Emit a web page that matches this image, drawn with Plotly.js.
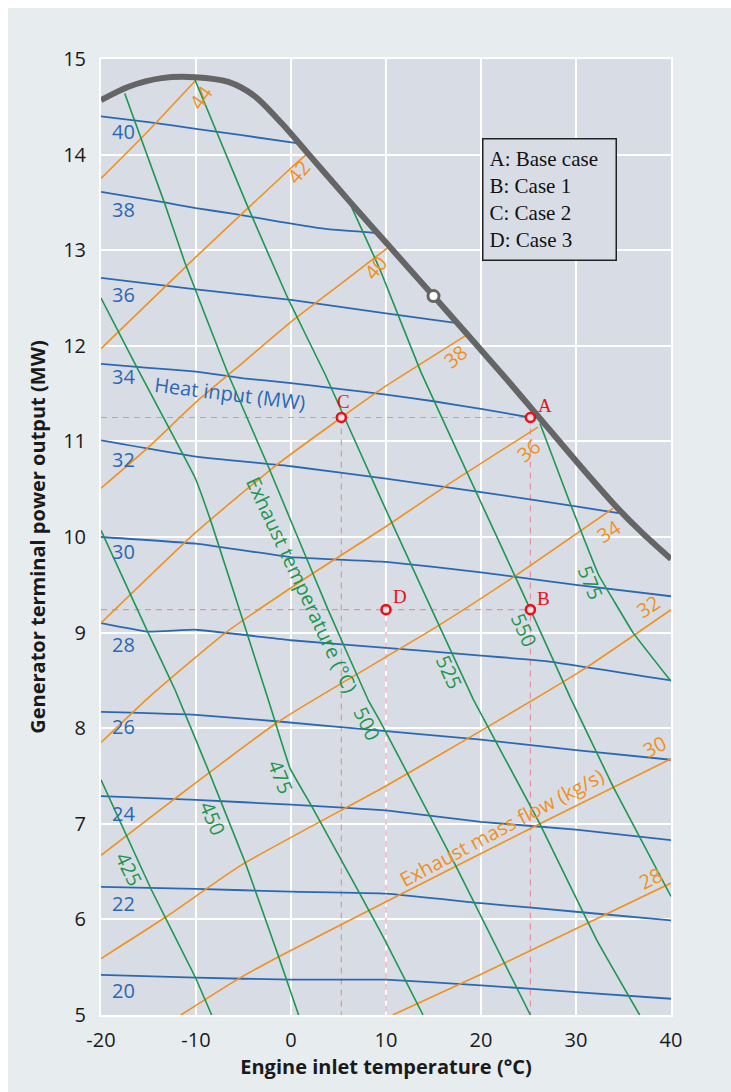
<!DOCTYPE html>
<html><head><meta charset="utf-8">
<script src="https://cdn.plot.ly/plotly-3.0.1.min.js"></script>
<style>
html,body{margin:0;padding:0;background:#ffffff;}
#chart{position:absolute;left:8px;top:8px;width:723px;height:1084px;}
</style></head><body><div id="chart"></div>
<script>
// ---------- data ----------
// Heat input (MW) lines
const heatLevels = [40, 38, 36, 34, 32, 30, 28, 26, 24, 22, 20];
const heatX = [
  [-20, -15, -10, -5, 0.6],
  [-20, -13.3, -10, -6, -1.3, 3.9, 9.0],
  [-20, -10, 0, 10, 17.3],
  [-20, -15, -10, -5, 0, 5, 10, 15, 20, 25.2],
  [-20, -10, 0, 10, 20, 30, 34.5],
  [-20, -10, 0, 10, 20, 30, 40],
  [-20, -15, -10, 0, 10, 20, 27, 40],
  [-20, -10, -1.3, 10, 20, 30, 40],
  [-20, -10, 0, 10, 20, 30, 40],
  [-20, -10, 0, 10, 20, 30, 40],
  [-20, -10, 0, 10, 20, 30, 40]
];
const heatY = [
  [14.40, 14.34, 14.27, 14.20, 14.12],
  [13.61, 13.50, 13.44, 13.38, 13.30, 13.22, 13.18],
  [12.71, 12.59, 12.48, 12.34, 12.24],
  [11.81, 11.77, 11.73, 11.66, 11.61, 11.55, 11.49, 11.42, 11.34, 11.25],
  [11.01, 10.84, 10.74, 10.61, 10.47, 10.32, 10.25],
  [10.00, 9.93, 9.79, 9.74, 9.63, 9.50, 9.38],
  [9.10, 9.01, 9.03, 8.92, 8.84, 8.76, 8.70, 8.50],
  [8.17, 8.14, 8.07, 7.97, 7.88, 7.77, 7.67],
  [7.29, 7.25, 7.20, 7.14, 7.02, 6.94, 6.83],
  [6.34, 6.32, 6.29, 6.27, 6.17, 6.08, 5.99],
  [5.42, 5.39, 5.37, 5.37, 5.31, 5.24, 5.17]
];
const heatLabelX = [-17.6, -17.6, -17.6, -17.6, -17.6, -17.6, -17.6, -17.6, -17.6, -17.6, -17.6];
const heatLabelY = [14.24, 13.43, 12.54, 11.68, 10.81, 9.85, 8.88, 8.02, 7.11, 6.17, 5.26];

// Exhaust mass flow (kg/s) lines
const massLevels = [44, 42, 40, 38, 36, 34, 32, 30, 28];
const massX = [
  [-20, -15, -10],
  [-20, -10, 0, 1.6],
  [-20, -15, -10, -5, 0, 5, 10.5],
  [-20, -10, -1.7, 5.3, 10, 18.6],
  [-20, -15, -7, 2, 10, 16.4, 26.0],
  [-20, -12.4, -1.3, 9.4, 15.3, 23.4, 33.9],
  [-20, -13.1, -5.2, 9.9, 18.4, 30.7, 40],
  [-11.6, -5.5, -1.3, 9.9, 26.2, 40],
  [10.7, 19.9, 40]
];
const massY = [
  [13.75, 14.25, 14.78],
  [11.97, 12.93, 13.86, 14.00],
  [10.51, 10.94, 11.41, 11.83, 12.25, 12.63, 13.05],
  [9.10, 10.05, 10.74, 11.25, 11.58, 12.12],
  [7.85, 8.32, 8.99, 9.60, 10.11, 10.54, 11.15],
  [6.67, 7.25, 8.07, 8.71, 9.06, 9.58, 10.30],
  [5.59, 6.03, 6.57, 7.39, 7.88, 8.61, 9.24],
  [5.00, 5.38, 5.61, 6.18, 7.00, 7.68],
  [5.00, 5.42, 6.38]
];
const massLabelX = [-9.5, 0.84, 8.9, 17.3, 25.0, 33.4, 37.6, 38.3, 37.8];
const massLabelY = [14.60, 13.82, 12.82, 11.89, 10.91, 10.06, 9.27, 7.81, 6.43];

// Exhaust temperature (°C) lines
const tempLevels = [425, 450, 475, 500, 525, 550, 575];
const tempX = [
  [-20, -14.7, -10.1, -8.35],
  [-20, -15, -12.2, -8.7, -4.8, -1.3, 0.8],
  [-20, -16.1, -10.1, -8.35, -2.4, -0.1, 2.2, 7.4, 9.9, 13.9],
  [-17.5, -13.3, -11.2, -6.6, -2.4, 0.4, 3.9, 8.1, 9.4, 17.4, 25.2],
  [-10.1, -4.7, -0.3, 3.6, 9.6, 19.2, 26.2, 32.2, 36.7],
  [6.2, 9.4, 13.7, 22.0, 25.2, 29.4, 33.9, 40],
  [26.2, 29.2, 32.4, 34.0, 36.0, 40]
];
const tempY = [
  [7.46, 6.31, 5.40, 5.00],
  [10.07, 8.99, 8.40, 7.56, 6.59, 5.61, 5.00],
  [12.50, 11.75, 10.62, 10.14, 8.30, 7.58, 7.18, 6.24, 5.78, 5.00],
  [14.64, 13.49, 12.88, 11.70, 10.74, 10.07, 9.24, 8.30, 8.07, 6.55, 5.00],
  [14.78, 13.49, 12.49, 11.70, 10.37, 8.30, 7.00, 5.78, 5.00],
  [13.49, 12.79, 11.72, 9.93, 9.24, 8.32, 7.39, 6.24],
  [11.19, 10.40, 9.60, 9.33, 9.00, 8.49]
];
const tempLabelX = [-17.1, -8.2, -1.15, 8.0, 16.6, 24.5, 31.5];
const tempLabelY = [6.53, 7.06, 7.49, 8.05, 8.59, 9.03, 9.52];

// Operating envelope (generator output limit)
const envX = [-20, -17.1, -13.6, -10.1, -6.6, -3.8, -1.0, 1.8, 4.6, 7.4, 10, 15, 22.7, 25.7, 28, 31, 34.3, 37, 40];
const envY = [14.57, 14.71, 14.80, 14.81, 14.76, 14.61, 14.33, 14.01, 13.69, 13.37, 13.08, 12.52, 11.65, 11.30, 11.03, 10.68, 10.31, 10.04, 9.77];
const ratedX = [15];
const ratedY = [12.52];

// Cases
const caseNames = ['A', 'B', 'C', 'D'];
const caseX = [25.2, 25.2, 5.3, 10.0];
const caseY = [11.25, 9.24, 11.25, 9.24];
const caseLabelX = [26.7, 26.6, 5.5, 11.5];
const caseLabelY = [11.38, 9.36, 11.42, 9.38];
const legendLines = ['A: Base case', 'B: Case 1', 'C: Case 2', 'D: Case 3'];

// Axis ticks
const xTickVals = [-20, -10, 0, 10, 20, 30, 40];
const xTickText = ['-20', '-10', '0', '10', '20', '30', '40'];

// ---------- styles ----------
const BLUE = '#2c68b2', ORANGE = '#f0901e', GREEN = '#1f9650', GREY = '#656565', RED = '#e5121a';
const PLOTBG = '#d8dde5', PAPER = '#e7ecef';
const SANS = '"Open Sans", "Noto Sans", sans-serif';
const SERIF = '"Liberation Serif", "DejaVu Serif", serif';
const X0 = -20, YB = 5;
const DASH = {color: 'rgba(232,120,140,0.75)', width: 1.2, dash: '6px,5px'};

const traces = [];
const annotations = [];

// dashed guide lines (one per row / column, from the outermost case)
caseNames.forEach((n, i) => {
  const hasRight = caseX.some((x, j) => j !== i && caseY[j] === caseY[i] && x > caseX[i]);
  if (!hasRight) {
    traces.push({x: [X0, caseX[i]], y: [caseY[i], caseY[i]], mode: 'lines', hoverinfo: 'skip', line: DASH});
  }
  const hasAbove = caseY.some((y, j) => j !== i && caseX[j] === caseX[i] && y > caseY[i]);
  if (!hasAbove) {
    traces.push({x: [caseX[i], caseX[i]], y: [caseY[i], YB], mode: 'lines', hoverinfo: 'skip', line: DASH});
  }
});

heatLevels.forEach((lv, i) => {
  traces.push({x: heatX[i], y: heatY[i], mode: 'lines', name: 'heat ' + lv,
    line: {color: BLUE, width: 1.8, shape: 'spline', smoothing: 0.3}});
  annotations.push({x: heatLabelX[i], y: heatLabelY[i], text: String(lv), showarrow: false,
    xanchor: 'center', yanchor: 'middle', font: {family: SANS, size: 20, color: BLUE}});
});

const massAngles = [-55, -50, -50, -40, -38, -33, -33, -27, -27];
massLevels.forEach((lv, i) => {
  traces.push({x: massX[i], y: massY[i], mode: 'lines', name: 'mass ' + lv,
    line: {color: ORANGE, width: 1.6, shape: 'spline', smoothing: 0.5}});
  annotations.push({x: massLabelX[i], y: massLabelY[i], text: String(lv), showarrow: false,
    textangle: massAngles[i], xanchor: 'center', yanchor: 'middle',
    font: {family: SANS, size: 20, color: ORANGE}});
});

const tempAngles = [64, 67, 68, 64, 66, 66, 68];
tempLevels.forEach((lv, i) => {
  traces.push({x: tempX[i], y: tempY[i], mode: 'lines', name: 'temp ' + lv,
    line: {color: GREEN, width: 1.6, shape: 'spline', smoothing: 0.25}});
  annotations.push({x: tempLabelX[i], y: tempLabelY[i], text: String(lv), showarrow: false,
    textangle: tempAngles[i], xanchor: 'center', yanchor: 'middle',
    font: {family: SANS, size: 20, color: GREEN}});
});

traces.push({x: envX, y: envY, mode: 'lines', name: 'envelope',
  line: {color: GREY, width: 6, shape: 'spline', smoothing: 0.8}});
traces.push({x: ratedX, y: ratedY, mode: 'markers', name: 'rated',
  marker: {symbol: 'circle', size: 11, color: '#ffffff', line: {color: GREY, width: 3}}});
traces.push({x: caseX, y: caseY, mode: 'markers', name: 'cases',
  marker: {symbol: 'circle', size: 9, color: 'rgba(245,225,228,1)', line: {color: RED, width: 2.6}}});

caseNames.forEach((n, i) => {
  annotations.push({x: caseLabelX[i], y: caseLabelY[i], text: n, showarrow: false,
    xanchor: 'center', yanchor: 'middle', font: {family: SERIF, size: 19, color: RED}});
});

// family titles
annotations.push({x: -6.4, y: 11.50, text: 'Heat input (MW)', showarrow: false, textangle: 7,
  xanchor: 'center', yanchor: 'middle', font: {family: SANS, size: 20, color: BLUE}});
annotations.push({x: 1.13, y: 9.50, text: 'Exhaust temperature (°C)', showarrow: false, textangle: 65,
  xanchor: 'center', yanchor: 'middle', font: {family: SANS, size: 20, color: GREEN}});
annotations.push({x: 22.2, y: 6.96, text: 'Exhaust mass flow (kg/s)', showarrow: false, textangle: -28,
  xanchor: 'center', yanchor: 'middle', font: {family: SANS, size: 20, color: ORANGE}});

// case legend box
annotations.push({x: 20.1, y: 14.17, xanchor: 'left', yanchor: 'top', showarrow: false,
  text: legendLines.join('<br>'), align: 'left', width: 120, height: 108,
  bgcolor: PLOTBG, bordercolor: '#222222', borderwidth: 1.5, borderpad: 6,
  font: {family: SERIF, size: 21, color: '#111111'}});

const layout = {
  width: 723, height: 1084,
  margin: {l: 93, r: 60, t: 51, b: 77},
  paper_bgcolor: PAPER, plot_bgcolor: PLOTBG,
  showlegend: false,
  xaxis: {range: [-20, 40], tickmode: 'array', tickvals: xTickVals, ticktext: xTickText,
    showgrid: true, gridcolor: '#ffffff', gridwidth: 2,
    zeroline: false, showline: true, linecolor: '#ffffff', linewidth: 2, mirror: true,
    ticks: 'outside', ticklen: 6, tickcolor: 'rgba(0,0,0,0)',
    tickfont: {family: SANS, size: 20, color: '#1a1a1a'},
    title: {text: 'Engine inlet temperature (°C)', standoff: 8,
      font: {family: SANS, size: 20, color: '#1a1a1a', weight: 'bold'}}},
  yaxis: {range: [5, 15], dtick: 1, showgrid: true, gridcolor: '#ffffff', gridwidth: 2,
    zeroline: false, showline: true, linecolor: '#ffffff', linewidth: 2, mirror: true,
    ticks: 'outside', ticklen: 9, tickcolor: 'rgba(0,0,0,0)',
    tickfont: {family: SANS, size: 20, color: '#1a1a1a'},
    title: {text: 'Generator terminal power output (MW)', standoff: 12,
      font: {family: SANS, size: 20, color: '#1a1a1a', weight: 'bold'}}},
  annotations: annotations
};

Plotly.newPlot('chart', traces, layout, {staticPlot: true, displayModeBar: false});
</script></body></html>
